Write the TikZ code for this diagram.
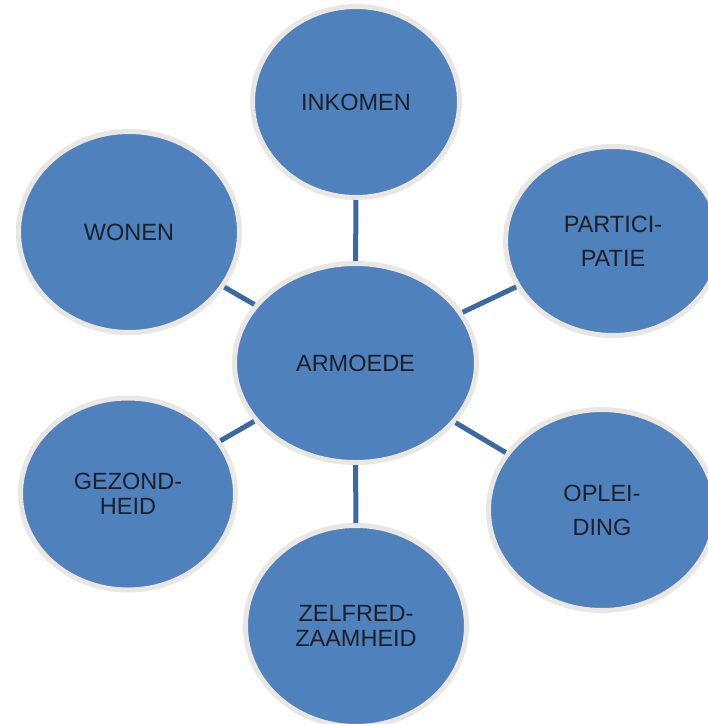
\documentclass[tikz,border=0pt]{standalone}
\usepackage{fontspec}
\setmainfont{Liberation Sans}
\usetikzlibrary{shapes.geometric}
\definecolor{bubblefill}{HTML}{4F81BD}
\definecolor{bubbleedge}{HTML}{EAE6E2}
\definecolor{linkblue}{HTML}{3B6AA2}
\definecolor{labeltext}{HTML}{1E2029}
\begin{document}
\begin{tikzpicture}[x=1pt,y=-1pt,
  bubble/.style={ellipse, fill=bubblefill, draw=bubbleedge, line width=5pt,
    inner sep=0pt, align=center, text=labeltext,
    font=\fontsize{23.5}{25}\selectfont},
  widelines/.style={font=\fontsize{23.5}{34}\selectfont},
  link/.style={draw=linkblue, line width=5pt}]
\useasboundingbox (0,0) rectangle (708,724);
\clip (0,0) rectangle (708,724);
\node[bubble, minimum width=207pt, minimum height=191pt] (ink) at (356,102) {INKOMEN};
\node[bubble, widelines, minimum width=215pt, minimum height=189pt] (par) at (613,241) {PARTICI-\\PATIE};
\node[bubble, minimum width=242pt, minimum height=199pt] (arm) at (355.5,363) {ARMOEDE};
\node[bubble, widelines, minimum width=227pt, minimum height=201pt] (opl) at (602,510) {OPLEI-\\DING};
\node[bubble, minimum width=221pt, minimum height=201pt] (zel) at (356,626) {ZELFRED-\\ZAAMHEID};
\node[bubble, minimum width=221pt, minimum height=201pt] (won) at (129,232) {WONEN};
\node[bubble, minimum width=215pt, minimum height=192pt] (gez) at (128,494) {GEZOND-\\HEID};
\draw[link] (arm) -- (ink);
\draw[link] (arm) -- (par);
\draw[link] (arm) -- (opl);
\draw[link] (arm) -- (zel);
\draw[link] (arm) -- (gez);
\draw[link] (arm) -- (won);
\end{tikzpicture}
\end{document}
